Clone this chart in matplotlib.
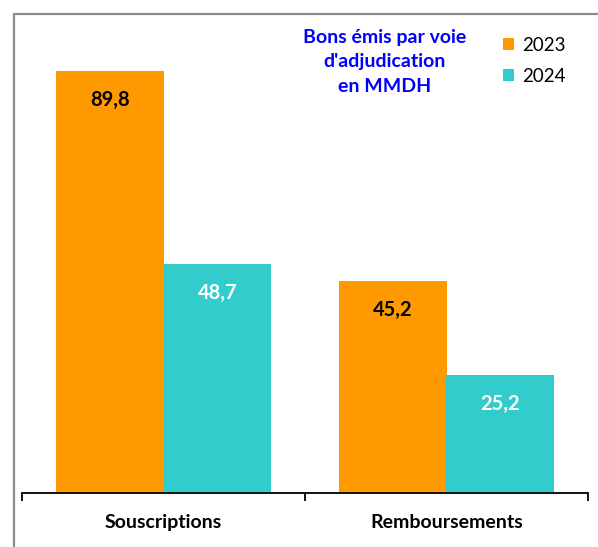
import matplotlib.pyplot as plt
from matplotlib.patches import Rectangle
import numpy as np

categories = ["Souscriptions", "Remboursements"]
years = ["2023", "2024"]
values_2023 = [89.8, 45.2]
values_2024 = [48.7, 25.2]
colors = ["#FF9900", "#33CCCC"]
label_colors = ["black", "white"]

plt.rcParams["font.family"] = ["Lato", "DejaVu Sans"]

W, H = 598, 547
fig = plt.figure(figsize=(W / 100, H / 100), dpi=100)

# grey frame around the chart (runs off right and bottom edges)
fig.patches.append(Rectangle((14 / W, -0.05), 1.0, 1 - 14 / H + 0.05, transform=fig.transFigure,
                             fill=False, edgecolor="#8c8c8c", linewidth=1.6))

# axes placed by pixel: x 24..590, baseline at y=493
ax = fig.add_axes([22 / W, (H - 493) / H, (588 - 22) / W, (493 - 23) / H])
ax.set_xlim(-0.5, 1.5)
ax.set_ylim(0, 100)

x = np.arange(len(categories))
width = 0.38
for i, vals in enumerate([values_2023, values_2024]):
    pos = x + (i - 0.5) * width
    ax.bar(pos, vals, width=width, color=colors[i], label=years[i])
    for p, v in zip(pos, vals):
        ax.annotate(f"{v:.1f}".replace(".", ","), (p, v), xytext=(0, -21), textcoords="offset points",
                    ha="center", va="center", fontsize=14.5, fontweight="bold", color=label_colors[i])

for s in ["top", "right", "left"]:
    ax.spines[s].set_visible(False)
ax.spines["bottom"].set_linewidth(1.3)
ax.set_yticks([])
ax.set_xticks([-0.5, 0.5, 1.5])
ax.set_xticklabels([])
ax.tick_params(axis="x", direction="out", length=6, width=1.3)
for xi, c in zip(x, categories):
    ax.text(xi, -0.062, c, transform=ax.get_xaxis_transform(), ha="center", va="center",
            fontsize=14, fontweight="bold")

fig.text(385 / W, 1 - 62 / H, "Bons émis par voie\nd'adjudication\nen MMDH", ha="center", va="center",
         color="#0000FF", fontsize=14, fontweight="bold", linespacing=1.55)

ax.legend(loc="upper left", bbox_to_anchor=(486 / W, 1 - 20 / H), bbox_transform=fig.transFigure,
          frameon=False, fontsize=13.5, handlelength=0.6, handleheight=0.6, handletextpad=0.4,
          labelspacing=0.75)

plt.savefig("out.png", dpi=100)
